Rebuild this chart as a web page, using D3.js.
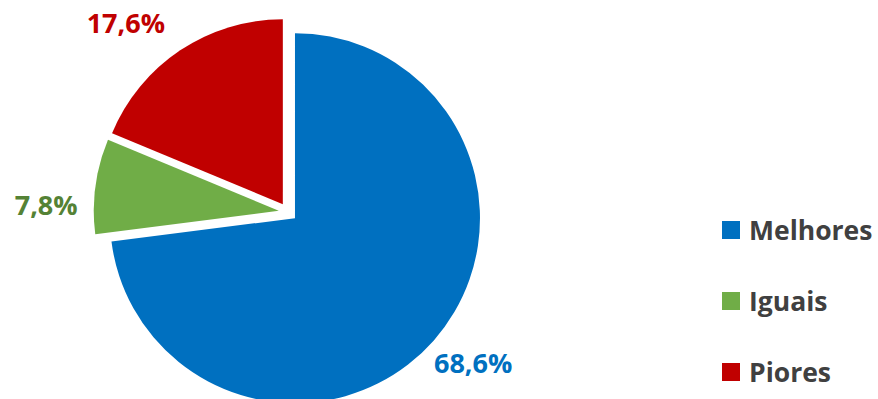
<!DOCTYPE html>
<html>
<head>
<meta charset="utf-8">
<script src="https://cdnjs.cloudflare.com/ajax/libs/d3/7.8.5/d3.min.js"></script>
<style>
  html, body { margin: 0; padding: 0; background: #fff; }
  svg { display: block; }
  text { font-family: "Open Sans", "Noto Sans", sans-serif; font-weight: bold; }
</style>
</head>
<body>
<div id="chart"></div>
<script>
// data
var categories = ["Melhores", "Iguais", "Piores"];
var values = [68.6, 7.8, 17.6];
var labels = ["68,6%", "7,8%", "17,6%"];

var sliceColors = ["#0070C0", "#70AD47", "#C00000"];
var labelColors = ["#0070C0", "#548235", "#C00000"];

(function() {
	var width = 878,
		height = 399,
		cx = 288,
		cy = 212,
		radius = 185,
		explode = 9.3,
		labelRadius = 240,
		fontSize = 27,
		legendFontSize = 26.5;

	// Excel nudges the labels a bit to keep them inside the chart area
	var labelNudge = [[5, -7], [-4, 25], [-29, 11]];

	var svg = d3.select("#chart")
		.append("svg")
		.attr("width", width)
		.attr("height", height);

	var data = categories.map(function(c, i) {
		return { name: c, value: values[i], label: labels[i], i: i };
	});

	var pie = d3.pie()
		.sort(null)
		.value(function(d) { return d.value; });

	var arc = d3.arc()
		.innerRadius(0)
		.outerRadius(radius);

	var arcs = pie(data);

	var g = svg.append("g")
		.attr("transform", "translate(" + cx + "," + cy + ")");

	g.selectAll("path.slice")
		.data(arcs)
		.join("path")
		.attr("class", "slice")
		.attr("d", arc)
		.attr("fill", function(d) { return sliceColors[d.data.i]; })
		.attr("transform", function(d) {
			var a = (d.startAngle + d.endAngle) / 2;
			return "translate(" + (Math.sin(a) * explode) + "," + (-Math.cos(a) * explode) + ")";
		});

	g.selectAll("text.label")
		.data(arcs)
		.join("text")
		.attr("class", "label")
		.attr("text-anchor", "middle")
		.attr("font-size", fontSize)
		.attr("fill", function(d) { return labelColors[d.data.i]; })
		.attr("x", function(d) {
			var a = (d.startAngle + d.endAngle) / 2;
			return Math.sin(a) * labelRadius + labelNudge[d.data.i][0];
		})
		.attr("y", function(d) {
			var a = (d.startAngle + d.endAngle) / 2;
			return -Math.cos(a) * labelRadius + labelNudge[d.data.i][1];
		})
		.attr("dy", "0.36em")
		.text(function(d) { return d.data.label; });

	// legend
	var legendY = d3.scalePoint()
		.domain(categories)
		.range([230, 372]);

	var legend = svg.append("g")
		.selectAll("g")
		.data(data)
		.join("g")
		.attr("transform", function(d) { return "translate(722," + legendY(d.name) + ")"; });

	legend.append("rect")
		.attr("x", 0)
		.attr("y", -9)
		.attr("width", 18)
		.attr("height", 18)
		.attr("fill", function(d) { return sliceColors[d.i]; });

	legend.append("text")
		.attr("x", 27)
		.attr("dy", "0.36em")
		.attr("font-size", legendFontSize)
		.attr("fill", "#404040")
		.text(function(d) { return d.name; });
})();
</script>
</body>
</html>
